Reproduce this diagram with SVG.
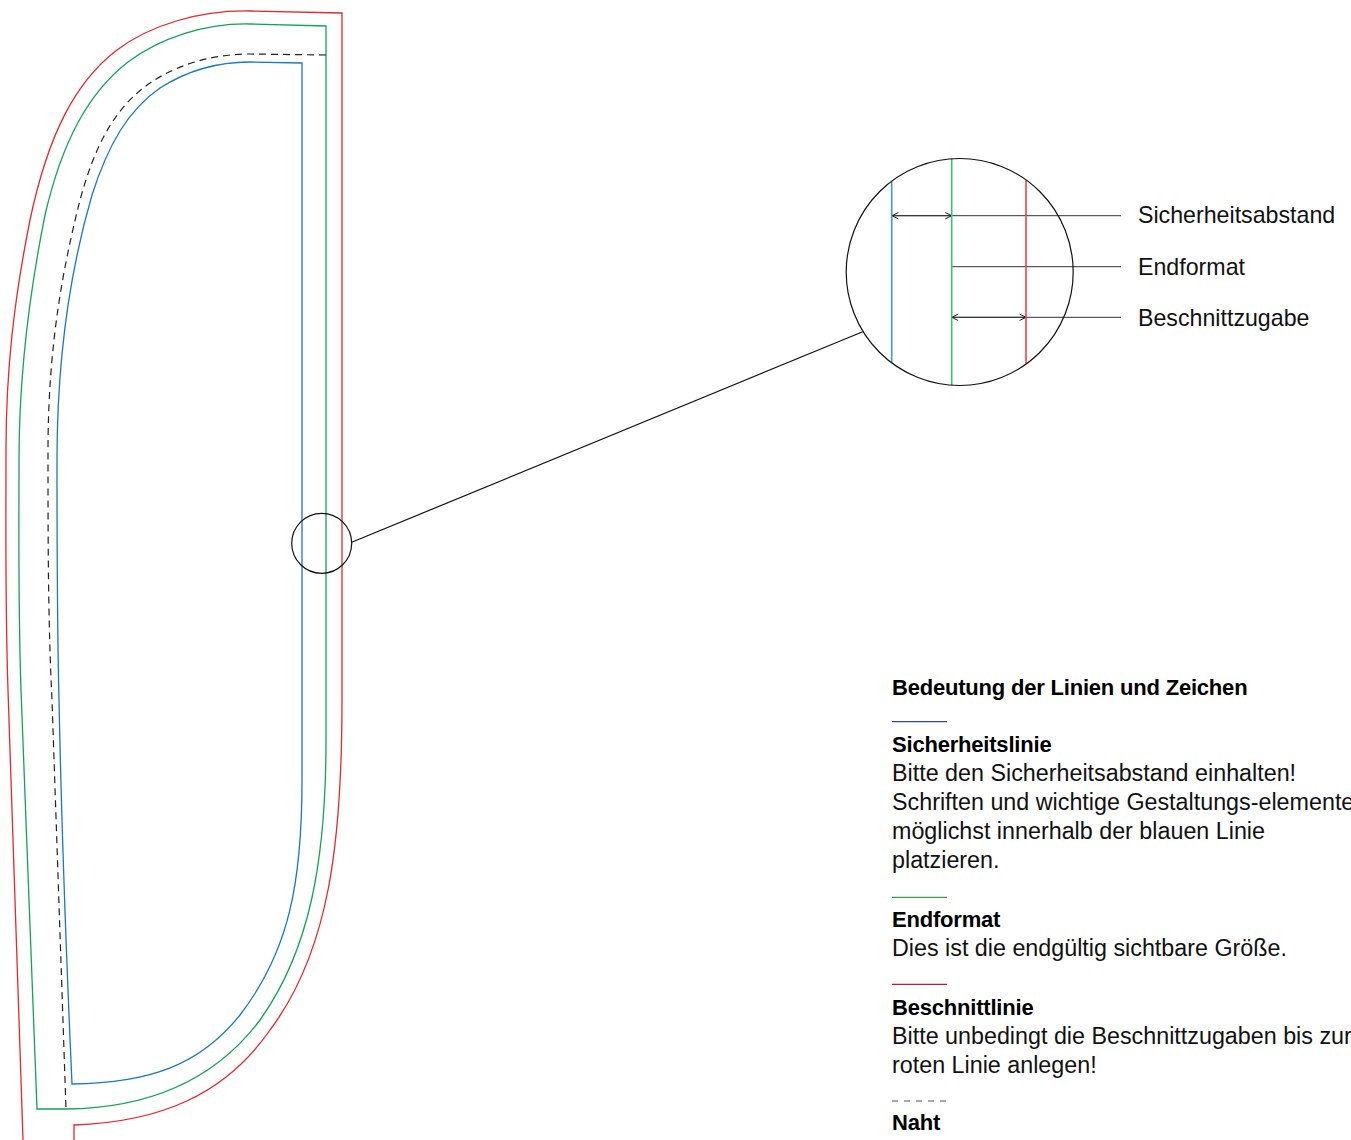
<svg xmlns="http://www.w3.org/2000/svg" width="1351" height="1140" viewBox="0 0 1351 1140">
<style>
.ol{fill:none;stroke-width:1.3;stroke-linejoin:miter}
.red{stroke:#e8262e}
.green{stroke:#12a356}
.blue{stroke:#1878c4}
.seam{fill:none;stroke:#222;stroke-width:1.2;stroke-dasharray:7 5}
.blk{fill:none;stroke:#111;stroke-width:1.2}
.lead{fill:none;stroke:#333;stroke-width:1}
.lbl{font-family:"Liberation Sans",Arial,sans-serif;font-size:23.2px;fill:#111}
.t{font-family:"Liberation Sans",Arial,sans-serif;font-size:23.3px;fill:#111}
.b{font-family:"Liberation Sans",Arial,sans-serif;font-size:22px;font-weight:bold;fill:#000;letter-spacing:-0.2px}
</style>
<defs>
<marker id="ah" viewBox="0 0 10 10" refX="9" refY="5" markerWidth="8" markerHeight="8" markerUnits="userSpaceOnUse" orient="auto-start-reverse">
<path d="M1 1 L9 5 L1 9" fill="none" stroke="#111" stroke-width="1.2"/>
</marker>
</defs>

<g id="outline">
<path id="beschnitt" class="ol red" d="M74 1140 L74 1125 C160 1122,225 1095,270 1030 C330 950,342 840,342 700 L342 13 L250 11 C200 10,150 25,117 50 C75 82,48 135,30 220 C14 300,6 370,6 450 C6 530,5 600,8 690 L23 1140"/>
<path id="endformat" class="ol green" d="M326 26 L250 24 C205 23,160 38,128 62 C88 93,62 142,45 215 C30 290,19 370,19 460 C19 540,18 600,21 690 C24 800,30 950,37 1109 L66 1109 C150 1108,215 1080,260 1020 C310 950,326 860,326 740 Z"/>
<path id="naht" class="seam" d="M326 55 L250 54 C210 54,175 66,150 83 C115 107,95 145,80 200 C65 260,48 340,48 450 C48 540,48 620,52 700 L66 1109"/>
<path id="sicherheit" class="ol blue" d="M302 63 L250 62 C215 62,185 72,160 88 C128 110,108 145,92 195 C76 250,57 340,57 460 C57 540,57 620,59 700 C61 800,66 950,72 1084 C150 1083,200 1065,240 1015 C290 950,302 880,302 780 Z"/>
</g>

<g id="detail-marker">
<circle cx="321.7" cy="543.3" r="30" class="blk"/>
</g>

<g id="connectors">
<line x1="351.7" y1="542.3" x2="862.7" y2="331.7" class="blk"/>
<line x1="892" y1="215.7" x2="1121" y2="215.7" class="lead"/>
<line x1="892" y1="215.7" x2="951.7" y2="215.7" class="lead" marker-start="url(#ah)" marker-end="url(#ah)"/>
<line x1="951.7" y1="266.7" x2="1121" y2="266.7" class="lead"/>
<line x1="951.7" y1="317.3" x2="1121" y2="317.3" class="lead"/>
<line x1="951.7" y1="317.3" x2="1026" y2="317.3" class="lead" marker-start="url(#ah)" marker-end="url(#ah)"/>
</g>

<g id="magnifier">
<line x1="891.7" y1="181.5" x2="891.7" y2="362.5" stroke="#3d97d8" stroke-width="1.6"/>
<line x1="951.7" y1="158.5" x2="951.7" y2="385.5" stroke="#3cbf7a" stroke-width="1.6"/>
<line x1="1026" y1="180.5" x2="1026" y2="363.5" stroke="#f0404c" stroke-width="1.6"/>
<circle cx="959.7" cy="272" r="113.5" class="blk"/>
</g>

<g id="labels">
<text class="lbl" x="1138" y="223">Sicherheitsabstand</text>
<text class="lbl" x="1138" y="275">Endformat</text>
<text class="lbl" x="1138" y="326">Beschnittzugabe</text>
</g>

<g id="legend">
<text class="b" x="892" y="694.5">Bedeutung der Linien und Zeichen</text>
<line x1="892" y1="721.7" x2="947" y2="721.7" stroke="#2e4d9e" stroke-width="1.3"/>
<text class="b" x="892" y="751.7">Sicherheitslinie</text>
<text class="t" x="892" y="780.5">Bitte den Sicherheitsabstand einhalten!</text>
<text class="t" x="892" y="809.5">Schriften und wichtige Gestaltungs-elemente</text>
<text class="t" x="892" y="838.5">möglichst innerhalb der blauen Linie</text>
<text class="t" x="892" y="867.5">platzieren.</text>
<line x1="892" y1="897.3" x2="947" y2="897.3" stroke="#3c9a48" stroke-width="1.3"/>
<text class="b" x="892" y="926.5">Endformat</text>
<text class="t" x="892" y="955.5">Dies ist die endgültig sichtbare Größe.</text>
<line x1="892" y1="984.3" x2="947" y2="984.3" stroke="#d2102a" stroke-width="1.3"/>
<text class="b" x="892" y="1015">Beschnittlinie</text>
<text class="t" x="892" y="1043.5">Bitte unbedingt die Beschnittzugaben bis zur</text>
<text class="t" x="892" y="1072.5">roten Linie anlegen!</text>
<line x1="892" y1="1101" x2="947" y2="1101" stroke="#555" stroke-width="1" stroke-dasharray="6 6"/>
<text class="b" x="892" y="1130">Naht</text>
</g>
</svg>
